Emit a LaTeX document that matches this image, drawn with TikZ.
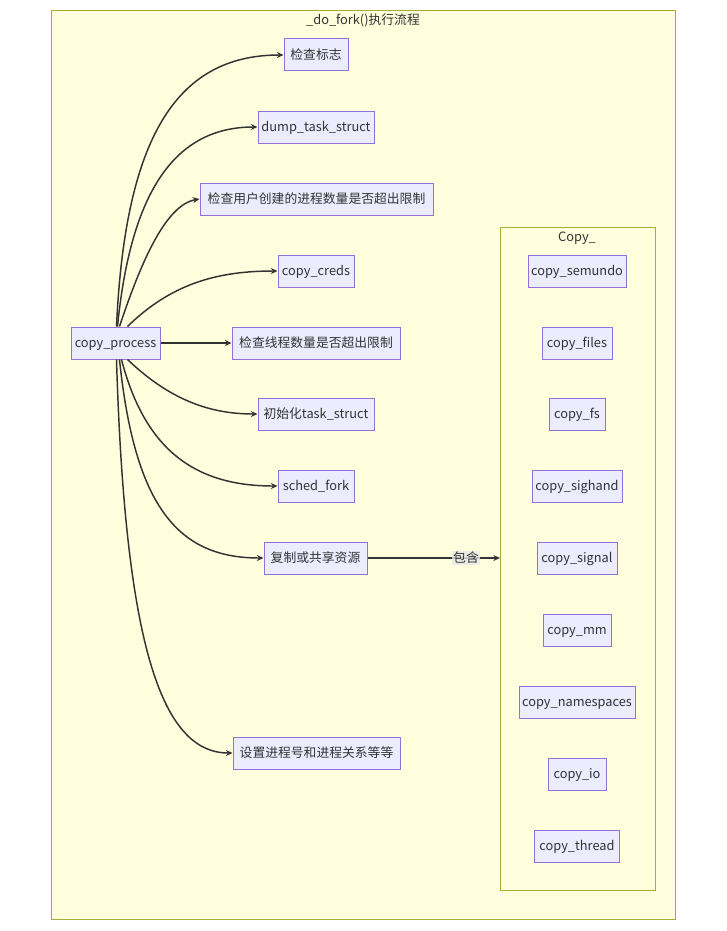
\documentclass[tikz,border=0pt]{standalone}
\usepackage{fontspec}
\setmainfont{Noto Sans CJK SC}
\usetikzlibrary{arrows.meta,calc}
\definecolor{clfill}{HTML}{FFFFDE}
\definecolor{clline}{HTML}{AAAA33}
\definecolor{ndfill}{HTML}{ECECFF}
\definecolor{ndline}{HTML}{9370DB}
\definecolor{edge}{HTML}{333333}
\definecolor{lblbg}{HTML}{E8E8E8}
\tikzset{
  box/.style={draw=ndline, fill=ndfill, line width=0.75pt, minimum height=24pt, inner sep=0pt, text height=8.2pt, text depth=0.8pt, text=edge, font=\fontsize{9.6pt}{11pt}\selectfont},
  cluster/.style={draw=clline, fill=clfill, line width=0.75pt},
  conn/.style={draw=edge, line width=1.1pt, -{Stealth[length=5pt,width=4.5pt]}},
  ttl/.style={text=edge, font=\fontsize{9.6pt}{11pt}\selectfont, inner sep=0pt, text height=8.2pt, text depth=0.8pt},
}
\begin{document}
\begin{tikzpicture}[x=0.75pt, y=-0.75pt]
\useasboundingbox[fill=white] (0,0) rectangle (726,931);
% clusters
\draw[cluster] (51,11) rectangle (675,919);
\node[ttl] (t1) at (363,20) {\_do\_fork()执行流程};
\draw[cluster] (500,227) rectangle (655,890);
\node[ttl] (t2) at (577,237) {Copy\_};
\coordinate (clin) at (500,558);
% left nodes
\node[box, minimum width={89*0.75pt}] (cp) at (115.5,343) {copy\_process};
\node[box, minimum width={64*0.75pt}] (n1) at (316,55) {检查标志};
\node[box, minimum width={116*0.75pt}] (n2) at (316,127) {dump\_task\_struct};
\node[box, minimum width={233*0.75pt}] (n3) at (316.5,199) {检查用户创建的进程数量是否超出限制};
\node[box, minimum width={76*0.75pt}] (n4) at (316,271) {copy\_creds};
\node[box, minimum width={168*0.75pt}] (n5) at (316,343) {检查线程数量是否超出限制};
\node[box, minimum width={116*0.75pt}] (n6) at (316,414) {初始化task\_struct};
\node[box, minimum width={76*0.75pt}] (n7) at (316,486) {sched\_fork};
\node[box, minimum width={103*0.75pt}] (n8) at (315.5,558) {复制或共享资源};
\node[box, minimum width={167*0.75pt}] (n9) at (316.5,753) {设置进程号和进程关系等等};
% cluster nodes
\node[box, minimum width={98*0.75pt}] (c1) at (577,271) {copy\_semundo};
\node[box, minimum width={70*0.75pt}] (c2) at (577,343) {copy\_files};
\node[box, minimum width={56*0.75pt}] (c3) at (577,414) {copy\_fs};
\node[box, minimum width={90*0.75pt}] (c4) at (577,486) {copy\_sighand};
\node[box, minimum width={80*0.75pt}] (c5) at (577,558) {copy\_signal};
\node[box, minimum width={68*0.75pt}] (c6) at (577,630) {copy\_mm};
\node[box, minimum width={116*0.75pt}] (c7) at (577,702) {copy\_namespaces};
\node[box, minimum width={58*0.75pt}] (c8) at (577,774) {copy\_io};
\node[box, minimum width={85*0.75pt}] (c9) at (577,846) {copy\_thread};
% edges
\draw[conn] ($(cp.north)+(1,0)$) .. controls (125,140) and (175,55) .. (n1.west);
\draw[conn] ($(cp.north)+(2,0)$) .. controls (130,200) and (170,127) .. (n2.west);
\draw[conn] ($(cp.north)+(4,0)$) .. controls (140,265) and (165,205) .. (n3.west);
\draw[conn] ($(cp.north)+(12,0)$) .. controls (170,285) and (215,271) .. (n4.west);
\draw[conn] (cp.east) -- (n5.west);
\draw[conn] ($(cp.south)+(12,0)$) .. controls (170,400) and (210,414) .. (n6.west);
\draw[conn] ($(cp.south)+(6,0)$) .. controls (145,450) and (195,486) .. (n7.west);
\draw[conn] ($(cp.south)+(4,0)$) .. controls (135,510) and (180,558) .. (n8.west);
\draw[conn] ($(cp.south)+(1,0)$) .. controls (125,640) and (160,753) .. (n9.west);
\draw[conn] (n8.east) -- (clin);
\node[fill=lblbg, fill opacity=0.8, text opacity=1, text=edge, inner sep=1pt, text height=8.2pt, text depth=0.8pt, font=\fontsize{9.6pt}{11pt}\selectfont] (lbl) at (466,558) {包含};
\end{tikzpicture}
\end{document}
